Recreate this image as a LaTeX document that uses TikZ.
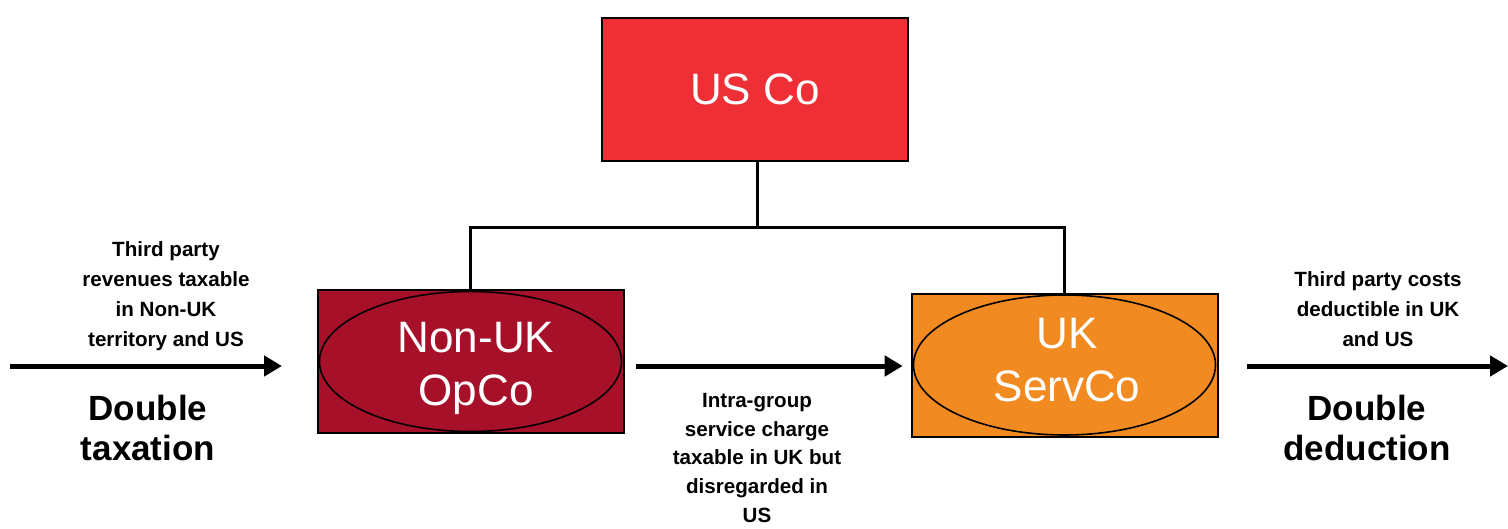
\documentclass[tikz,border=0pt]{standalone}
\usepackage{fontspec}
\setmainfont{Liberation Sans}
\usetikzlibrary{arrows.meta,shapes.geometric,positioning}
\definecolor{usred}{HTML}{EE2F36}
\definecolor{opred}{HTML}{A71029}
\definecolor{ukorange}{HTML}{F28A22}
\tikzset{
    entity/.style={draw=black,line width=1pt,inner sep=0pt,minimum width=153pt,minimum height=71.5pt},
    oval/.style={ellipse,draw=black,line width=0.8pt,inner sep=0pt,minimum width=151pt,minimum height=70pt},
    entname/.style={text=white,align=center,font=\fontsize{22}{26.5}\selectfont},
    flow/.style={line width=2.5pt,-{Triangle[length=9pt,width=10pt]}},
    note/.style={align=center,font=\bfseries\fontsize{10.3}{15}\selectfont},
    verdict/.style={align=center,font=\bfseries\fontsize{17.5}{20}\selectfont},
  }
\begin{document}
\begin{tikzpicture}[x=0.5pt,y=-0.5pt]
                  %cadre (pixels de l'original, y vers le bas)
                  \useasboundingbox (0,0) rectangle (1508,529);
                  %societes
                  \node[entity,fill=usred,entname] (usco) at (755,89.5) {US Co};
                  \node[entity,fill=opred] (opbox) at (470.5,361.5) {};
                  \node[oval] (opco) at (opbox.center) {};
                  \node[entname] (opname) at (476,368) {Non-UK\\OpCo};
                  \node[entity,fill=ukorange] (ukbox) at (1064.5,365) {};
                  \node[oval] (servco) at (ukbox.center) {};
                  \node[entname] (ukname) at (1067,360) {UK\\ServCo};
                  %organigramme
                  \coordinate (bus) at (757,228);
                  \draw[line width=1.5pt] (usco.south -| bus) -- (bus);
                  \draw[line width=1.5pt] (opbox.north) |- (bus) -| (ukbox.north);
                  %flux
                  \coordinate (in) at (10,366);
                  \coordinate (out) at (1508,366);
                  \draw[flow] (in) -- (in -| 282,0);
                  \draw[flow] (opbox.east |- in) ++(11,0) -- ([xshift=-5pt]servco.west |- in);
                  \draw[flow] (ukbox.east |- in) ++(28,0) -- (out);
                  %textes
                  \node[note] (revenues) at (166,296) {Third party\\revenues taxable\\in Non-UK\\territory and US};
                  \node[verdict] (taxation) at (148,428) {Double\\taxation};
                  \node[note,font=\bfseries\fontsize{10.3}{14.4}\selectfont] (charge) at (757,458) {Intra-group\\service charge\\taxable in UK but\\disregarded in\\US};
                  \node[note] (costs) at (1378,309) {Third party costs\\deductible in UK\\and US};
                  \node[verdict] (deduction) at (1367,428) {Double\\deduction};
                  \end{tikzpicture}
\end{document}
